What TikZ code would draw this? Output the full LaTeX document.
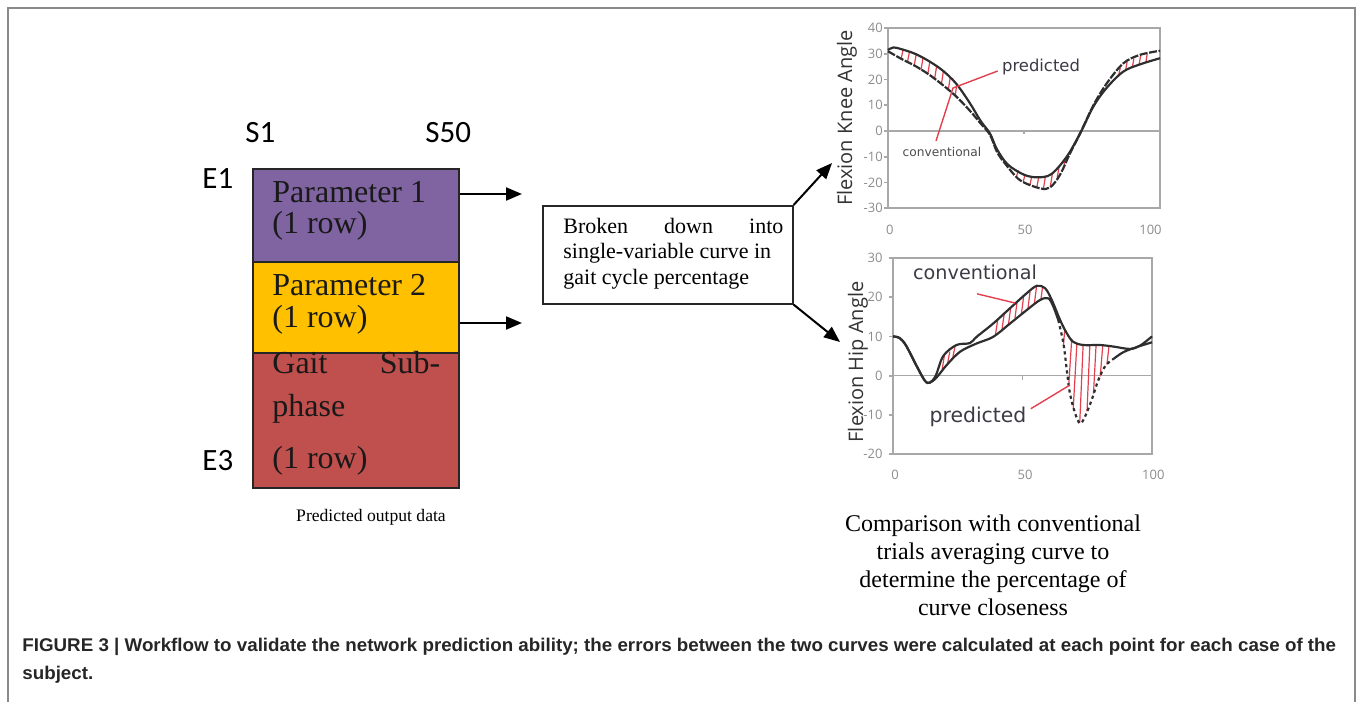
\documentclass[tikz,border=0pt]{standalone}
\usepackage{fontspec}
\setmainfont{Liberation Serif}
\newfontfamily\calfont{Carlito}
\newfontfamily\chartfont{Open Sans}
\newfontfamily\labfont{DejaVu Sans}
\newfontfamily\capfont[FakeStretch=1.02]{Liberation Sans}
\usetikzlibrary{arrows.meta,calc}
\definecolor{purp}{HTML}{8064A2}
\definecolor{yel}{HTML}{FFC000}
\definecolor{redb}{HTML}{C0504D}
\definecolor{framegray}{HTML}{8A8A8A}
\definecolor{axgray}{HTML}{A8A8A8}
\definecolor{tickgray}{HTML}{8C8C8C}
\definecolor{curvecol}{HTML}{2E2E2E}
\definecolor{hatchred}{HTML}{E2404F}
\definecolor{labgray}{HTML}{3C3A44}

\begin{document}
\begin{tikzpicture}[x=0.5pt,y=-0.5pt,
  arr/.style={line width=1pt,-{Triangle[length=8pt,width=6.5pt]}},
  block/.style={draw=black!85,line width=0.8pt,anchor=north west,inner sep=0pt,minimum width=103pt},
  rowtxt/.style={anchor=base west,inner sep=0pt,font=\fontsize{16}{15}\selectfont,text=black!90},
  sidelab/.style={anchor=base west,inner sep=0pt,font=\calfont\fontsize{15.5}{16}\selectfont},
  chartframe/.style={draw=axgray,line width=0.9pt},
  zeroline/.style={draw=axgray,line width=0.8pt},
  tick/.style={inner sep=0pt,font=\chartfont\fontsize{6.5}{7}\selectfont,text=tickgray},
  axtitle/.style={inner sep=0pt,rotate=90,font=\chartfont\fontsize{10}{11}\selectfont,text=black!80},
  curve/.style={draw=curvecol,line width=1.1pt},
  hatch/.style={draw=hatchred,line width=0.6pt},
  lead/.style={draw=hatchred,line width=0.7pt},
  curvelab/.style={inner sep=0pt,font=\labfont,text=labgray},
  captxt/.style={anchor=base west,inner sep=0pt,font=\capfont\bfseries\fontsize{9.2}{10}\selectfont,text=black!85}]

\useasboundingbox (0,0) rectangle (1358,701);

% outer frame, open at the bottom
\draw[framegray,line width=1pt] (8,720) -- (8,8) -- (1355,8) -- (1355,720);

% ---------- stacked output matrix ----------
\node[block,fill=purp,minimum height=46.5pt] (p1) at (252,168) {};
\node[block,fill=yel,minimum height=45.5pt] (p2) at (252,261) {};
\node[block,fill=redb,minimum height=67.5pt] (p3) at (252,352) {};

\node[rowtxt] (p1a) at (272,202) {Parameter 1};
\node[rowtxt] (p1b) at (272,233) {(1 row)};
\node[rowtxt] (p2a) at (272,295) {Parameter 2};
\node[rowtxt] (p2b) at (272,327) {(1 row)};
\node[rowtxt] (p3a) at (272,373) {\makebox[84pt][l]{Gait\hfill Sub-}};
\node[rowtxt] (p3b) at (272,416) {phase};
\node[rowtxt] (p3c) at (272,468) {(1 row)};

\node[sidelab] (s1) at (245,142) {S1};
\node[sidelab] (s50) at (425,142) {S50};
\node[sidelab] (e1) at (202,188) {E1};
\node[sidelab] (e3) at (202,470) {E3};

\node[inner sep=0pt,font=\fontsize{8.8}{10}\selectfont] (pod) at (371,517) {Predicted output data};

% ---------- arrows to the splitting step ----------
\coordinate (a1) at (522,194);
\coordinate (a2) at (522,323);
\draw[arr] (p1.east |- a1) -- (a1);
\draw[arr] (p2.east |- a2) -- (a2);

\node[draw=black!85,line width=0.8pt,anchor=north west,inner sep=0pt,
      minimum width=125pt,minimum height=49pt] (mb) at (542,205) {};
\node[anchor=north west,inner sep=0pt,align=left,
      font=\fontsize{11}{12.6}\selectfont] (mbt) at (563,218)
  {\makebox[110pt][s]{Broken down into}\\single-variable curve in\\gait cycle percentage};

\coordinate (k1) at (832,163);
\coordinate (k2) at (840,342);
\draw[arr] (mb.north east) -- (k1);
\draw[arr] (mb.south east) -- (k2);

% ---------- knee flexion chart ----------
\node[axtitle] (kt) at (847,118) {Flexion Knee Angle};
\begin{scope}[shift={(888,131)},x=1.36pt,y=1.2857pt]
  \draw[chartframe] (0,-30) rectangle (100,40);
  \draw[zeroline] (0,0) -- (100,0);
  \draw[zeroline] (50,0) -- (50,-1.2);
  \foreach \v [count=\i] in {40,30,...,-30} {
    \draw[chartframe] (-1.4,\v) -- (0,\v);
    \node[tick,anchor=east] (ky\i) at (-1.8,\v) {\v};
  }
  \node[tick] (kx1) at (0.7,-38.5) {0};
  \node[tick] (kx2) at (50.4,-38.5) {50};
  \node[tick] (kx3) at (96.5,-38.5) {100};
  % red error hatching between the two curves
  \draw[hatch]
    (5.6,31.8) -- (4.8,28.0)  (7.9,30.9) -- (7.1,26.6)  (10.4,30.0) -- (9.6,25.3)
    (12.9,28.6) -- (12.1,23.6) (15.4,27.2) -- (14.6,22.0) (17.9,25.4) -- (17.1,20.0)
    (20.4,23.6) -- (19.6,18.0) (22.9,21.0) -- (22.1,15.7) (25.3,18.5) -- (24.7,13.5)
    (47.9,-15.3) -- (47.2,-17.9) (50.4,-17.0) -- (49.7,-19.7) (52.9,-17.5) -- (52.2,-20.8)
    (55.4,-18.0) -- (54.7,-21.9) (57.9,-17.4) -- (57.2,-22.1) (60.4,-16.8) -- (59.7,-21.4)
    (62.9,-13.9) -- (62.2,-18.1) (65.2,-10.8) -- (64.7,-13.0)
    (85.4,24.6) -- (84.8,21.8) (87.9,26.8) -- (87.3,23.5) (90.4,28.2) -- (89.8,24.6)
    (92.9,29.6) -- (92.3,25.7) (95.3,30.1) -- (94.8,26.6);
  % the two knee curves
  \draw[curve] plot[smooth,tension=0.55] coordinates {
    (0,31.5) (2,32.5) (5,31.8) (10,30) (15,27.2) (20,23.6) (25,18.5) (30,11)
    (34,4) (37.5,-1) (40,-7) (44,-13) (50,-17) (55,-18) (60,-16.8) (65.7,-10)
    (70.6,-1) (75.5,9.5) (80.4,16.8) (86.5,23.1) (92.6,25.9) (100,28.3)};
  \draw[curve,dash pattern=on 4pt off 0.8pt] plot[smooth,tension=0.55] coordinates {
    (0,31) (5,28) (10,25.3) (15,22) (20,18) (25,13.5) (30,8) (34,3) (37.5,-1.5)
    (40,-8) (43,-12.6) (48.5,-19.1) (55.9,-22.3) (59.6,-21.9) (63.2,-17.1)
    (66.9,-8.7) (70.6,-1) (75.5,10) (80.4,18.5) (86.5,26.3) (92.6,29.6) (100,31.2)};
\end{scope}
\node[curvelab,font=\labfont\fontsize{8.2}{9}\selectfont] (kpred) at (1041,67) {predicted};
\node[curvelab,font=\labfont\fontsize{6.1}{7}\selectfont,text=black!70] (kconv) at (942,152) {conventional};
\coordinate (kmeet) at (953,88);
\draw[lead] ([xshift=-2pt,yshift=-2pt]kpred.west) -- (kmeet) -- ([xshift=-3pt,yshift=3pt]kconv.north);

% ---------- hip flexion chart ----------
\node[axtitle] (ht) at (858,362) {Flexion Hip Angle};
\begin{scope}[shift={(893,375.6)},x=1.295pt,y=1.96pt]
  \draw[chartframe] (0,-20) rectangle (100,30);
  \draw[zeroline] (0,0) -- (100,0);
  \draw[zeroline] (50,0) -- (50,-1);
  \foreach \v [count=\i] in {30,20,...,-20} {
    \draw[chartframe] (-1.5,\v) -- (0,\v);
    \node[tick,anchor=east] (hy\i) at (-3.9,\v) {\v};
  }
  \node[tick] (hx1) at (0.8,-25.4) {0};
  \node[tick] (hx2) at (51,-25.4) {50};
  \node[tick] (hx3) at (100.5,-25.4) {100};
  % red error hatching
  \draw[hatch]
    (19.8,5.0) -- (19.0,1.6) (21.9,6.1) -- (21.1,3.2) (23.9,7.3) -- (23.1,4.7)
    (40.4,14.1) -- (39.6,10.6) (42.9,15.6) -- (42.1,11.9) (45.4,17.1) -- (44.6,13.2)
    (47.9,18.8) -- (47.1,14.7) (50.4,20.0) -- (49.6,15.9) (52.9,21.4) -- (52.1,17.1)
    (55.4,22.6) -- (54.6,18.5) (57.7,22.4) -- (57.1,19.4)
    (66.3,11.8) -- (65.8,7.6) (69.0,9.4) -- (67.9,-2.0) (71.0,8.3) -- (69.6,-8.2)
    (73.4,7.8) -- (72.1,-12.0) (76.0,7.8) -- (74.9,-9.1) (78.4,7.8) -- (77.4,-4.6)
    (81.0,7.8) -- (80.0,-0.2) (83.4,7.6) -- (82.6,2.8);
  % the two hip curves
  \draw[curve] plot[smooth,tension=0.55] coordinates {
    (0,10) (2.5,9.6) (5,7.7) (9,2.6) (12.3,-1.3) (14.2,-1.8) (16.5,0) (19.4,5)
    (24.5,7.8) (29.7,8.3) (32.3,9.9) (38.7,13.3) (45.2,17.2) (51.6,21) (55.5,22.9)
    (58.7,22.3) (61.3,19.3) (64.5,14.2) (67.1,10.8) (69.6,8.6) (73.5,7.8) (79.9,7.8)
    (85.2,7.4) (91.6,6.8) (95.5,7.7) (100,10)};
  \draw[curve] plot[smooth,tension=0.55] coordinates {
    (0,10) (2.5,9.6) (5,7.7) (9,2.6) (12.3,-1.3) (14.2,-1.8) (16.8,-0.5) (20.6,2.6)
    (25.9,6.1) (32.3,8.2) (38.7,9.9) (45.2,13.3) (51.6,16.7) (56.8,19.3) (60,19.7)
    (61.9,17.6) (63.8,14.2)};
  \draw[curve,dash pattern=on 1.6pt off 1.6pt] plot[smooth,tension=0.55] coordinates {
    (63.8,14.2) (65.8,8.2) (67.1,1.4) (68.3,-4.5) (70.3,-9.6) (72.2,-12.2) (74.1,-10.5)
    (76.7,-6.2) (79.3,-1.1) (82,2.5) (85.2,4.3)};
  \draw[curve] plot[smooth,tension=0.55] coordinates {
    (85.2,4.3) (89,6) (94.2,7.3) (100,8.5)};
\end{scope}
\node[curvelab,font=\labfont\fontsize{9.6}{10}\selectfont] (hconv) at (975,272) {conventional};
\node[curvelab,font=\labfont\fontsize{10.2}{11}\selectfont] (hpred) at (978,417) {predicted};
\coordinate (hc1) at (1015,303);
\coordinate (hp1) at (1070,385);
\draw[lead] ([xshift=1pt,yshift=-7pt]hconv.south) -- (hc1);
\draw[lead] ([xshift=2pt,yshift=-1pt]hpred.north east) -- (hp1);

\node[align=center,inner sep=0pt,font=\fontsize{12}{14}\selectfont] (cmp) at (993,565)
  {Comparison with conventional\\trials averaging curve to\\determine the percentage of\\curve closeness};

% ---------- caption ----------
\node[captxt] (cap1) at (22,651)
  {FIGURE 3 | Workflow to validate the network prediction ability; the errors between the two curves were calculated at each point for each case of the};
\node[captxt] (cap2) at (22,679) {subject.};
\end{tikzpicture}
\end{document}
